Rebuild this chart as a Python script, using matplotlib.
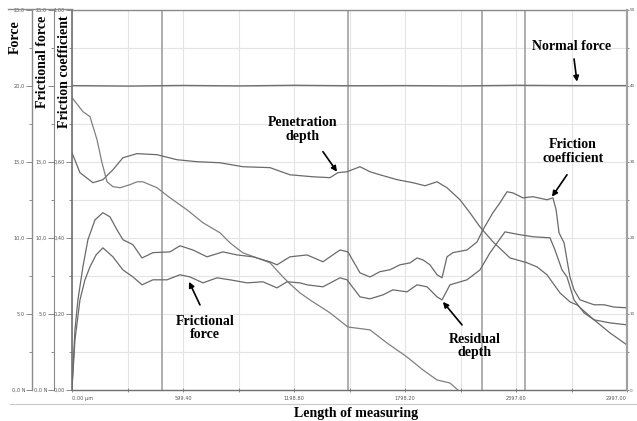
import matplotlib
matplotlib.use("Agg")
import matplotlib.pyplot as plt
from matplotlib.lines import Line2D
from matplotlib.ticker import MultipleLocator, FixedLocator

# ---------------- data ----------------
# x positions in micrometres, values on the 0-25 force scale unless noted
normal_x = [0, 300, 600, 900, 1200, 1500, 1800, 2100, 2400, 2700, 2997]
normal_y = [20.0, 19.97, 20.01, 19.98, 20.02, 19.99, 20.0, 19.98, 20.02, 20.0, 20.0]

pen_x = [0, 43, 113, 167, 221, 275, 351, 459, 567, 675, 799, 923, 1069, 1177,
         1301, 1393, 1436, 1485, 1555, 1609, 1663, 1755, 1841, 1906, 1971, 2025,
         2095, 2149, 2203, 2273, 2365, 2457, 2511, 2565, 2635, 2689, 2727, 2819,
         2905, 2997]
pen_y = [15.59, 14.28, 13.62, 13.82, 14.47, 15.26, 15.53, 15.46, 15.13, 15.0,
         14.93, 14.67, 14.61, 14.14, 14.01, 13.95, 14.28, 14.34, 14.67, 14.34,
         14.14, 13.82, 13.62, 13.42, 13.68, 13.29, 12.5, 11.64, 10.72, 9.74,
         8.68, 8.36, 8.09, 7.57, 6.38, 5.79, 5.59, 4.61, 3.75, 2.96]

res_x = [0, 59, 97, 135, 162, 189, 221, 259, 313, 351, 383, 459, 529, 621, 707,
         799, 853, 923, 999, 1069, 1139, 1177, 1231, 1285, 1393, 1490, 1609,
         1701, 1809, 1895, 1971, 2041, 2084]
res_y = [19.21, 18.29, 17.96, 16.45, 14.93, 13.68, 13.36, 13.29, 13.49, 13.68,
         13.68, 13.29, 12.63, 11.84, 10.99, 10.33, 9.67, 9.01, 8.68, 8.36, 7.43,
         6.97, 6.38, 5.92, 5.07, 4.14, 3.95, 3.09, 2.17, 1.32, 0.66, 0.46, 0.0]

# friction coefficient (0-1)
coef_x = [0, 16, 32, 59, 86, 124, 167, 205, 243, 275, 329, 378, 437, 529, 583,
          653, 729, 815, 891, 977, 1069, 1107, 1177, 1269, 1355, 1447, 1490,
          1555, 1609, 1663, 1717, 1771, 1825, 1863, 1895, 1933, 1971, 1998, 2025,
          2057, 2133, 2187, 2219, 2273, 2311, 2349, 2381, 2435, 2489, 2565, 2597,
          2614, 2630, 2657, 2689, 2711, 2743, 2819, 2873, 2927, 2997]
coef_y = [0.005, 0.158, 0.237, 0.324, 0.395, 0.447, 0.466, 0.455, 0.421, 0.395,
          0.382, 0.347, 0.361, 0.363, 0.379, 0.368, 0.350, 0.363, 0.355, 0.350,
          0.337, 0.329, 0.350, 0.355, 0.337, 0.368, 0.363, 0.308, 0.297, 0.311,
          0.316, 0.329, 0.334, 0.347, 0.342, 0.329, 0.303, 0.295, 0.350, 0.361,
          0.368, 0.389, 0.421, 0.466, 0.492, 0.521, 0.518, 0.505, 0.508, 0.500,
          0.505, 0.474, 0.413, 0.387, 0.297, 0.263, 0.237, 0.224, 0.224, 0.218,
          0.216]

# frictional force (N)
ff_x = [0, 16, 43, 70, 97, 130, 167, 221, 275, 329, 378, 437, 513, 583, 637,
        707, 783, 853, 945, 1031, 1107, 1161, 1231, 1269, 1355, 1447, 1485, 1555,
        1609, 1679, 1733, 1809, 1863, 1917, 1971, 1998, 2041, 2133, 2203, 2257,
        2338, 2419, 2489, 2581, 2608, 2646, 2673, 2711, 2765, 2819, 2905, 2997]
ff_y = [0.13, 3.29, 5.92, 7.24, 8.09, 8.88, 9.34, 8.75, 7.89, 7.43, 6.91, 7.24,
        7.24, 7.57, 7.43, 7.04, 7.37, 7.24, 7.04, 7.11, 6.71, 7.11, 7.04, 6.91,
        6.78, 7.37, 7.24, 6.12, 5.99, 6.25, 6.58, 6.45, 6.91, 6.78, 6.12, 5.92,
        6.91, 7.24, 7.89, 9.01, 10.39, 10.20, 10.07, 10.0, 9.21, 7.89, 7.43,
        5.92, 5.07, 4.61, 4.41, 4.28]

marker_lines = [486, 1490, 2214, 2446]

x_ticks = [0, 599.4, 1198.8, 1798.2, 2397.6, 2997.0]
x_tick_labels = ["0.00 µm", "599.40", "1198.80", "1798.20", "2397.60", "2997.00"]
force_ticks = [0, 5, 10, 15, 20, 25]
force_labels = ["0,0 N", "5,0", "10,0", "15,0", "20,0", "25,0"]
ff_labels = ["0,0 N", "5,0", "10,0", "15,0", "", "25,0"]
coef_ticks = [0, 0.2, 0.4, 0.6, 0.8, 1.0]
coef_labels = ["0,00", "0,20", "0,40", "0,60", "", "1,00"]
depth_labels = ["0", "10", "20", "30", "40", "50"]

# ---------------- figure ----------------
W, H = 637, 421
fig = plt.figure(figsize=(W / 100, H / 100), dpi=100)
fig.patch.set_facecolor("white")

L, R, T, B = 72, 627, 9.5, 390
ax = fig.add_axes([L / W, (H - B) / H, (R - L) / W, (B - T) / H])

curve_col = "#6a6a6a"
axis_col = "#8a8a8a"
tick_col = "#555555"
tick_font = dict(family="DejaVu Sans", size=3.6)
serif_bold = dict(family="Liberation Serif", weight="bold", size=10)

# spine positions first (moving a spine resets its ticks)
ax.spines["left"].set_position(("axes", -(L - 32) / (R - L)))

ax.set_xlim(0, 2997)
ax.set_ylim(0, 25)
ax.set_xticks(x_ticks)
ax.set_xticklabels(x_tick_labels, fontdict=tick_font, color=tick_col)
ax.xaxis.set_minor_locator(FixedLocator([299.7, 899.1, 1498.5, 2097.9, 2697.3]))
ax.yaxis.set_minor_locator(MultipleLocator(2.5))
ax.set_yticks(force_ticks)
ax.set_yticklabels(force_labels, fontdict=tick_font, color=tick_col)
ax.grid(True, which="both", color="#e4e4e4", lw=0.8)
ax.set_axisbelow(True)
labs = ax.get_xticklabels()
labs[0].set_ha("left")
labs[-1].set_ha("right")
ax.tick_params(axis="x", which="both", direction="inout", length=3, width=0.7,
               color=axis_col, pad=3)
ax.tick_params(axis="y", which="major", direction="out", length=4, width=0.7,
               color=axis_col, pad=1)
ax.tick_params(axis="y", which="minor", direction="out", length=2, width=0.7,
               color=axis_col)
for s in ["left", "bottom", "top"]:
    ax.spines[s].set_color(axis_col)
    ax.spines[s].set_linewidth(1.0)
ax.spines["bottom"].set_color("#707070")
ax.spines["right"].set_visible(False)

for xv in marker_lines:
    ax.axvline(xv, color="#a8a8a8", lw=1.3, zorder=1)

ax.plot(normal_x, normal_y, color="#707070", lw=1.0, zorder=3)
ax.plot(pen_x, pen_y, color=curve_col, lw=0.9, zorder=3)
ax.plot(res_x, res_y, color="#808080", lw=0.9, zorder=3)

# frictional force axis
ax_ff = ax.twinx()
ax_ff.yaxis.set_ticks_position("left")
ax_ff.spines["left"].set_position(("axes", -(L - 54) / (R - L)))
ax_ff.set_ylim(0, 25)
ax_ff.spines["left"].set_color(axis_col)
for s in ["right", "top", "bottom"]:
    ax_ff.spines[s].set_visible(False)
ax_ff.set_yticks(force_ticks)
ax_ff.set_yticklabels(ff_labels, fontdict=tick_font, color=tick_col)
ax_ff.yaxis.set_minor_locator(MultipleLocator(2.5))
ax_ff.tick_params(axis="y", which="major", direction="out", length=4, width=0.7,
                  color=axis_col, pad=1)
ax_ff.tick_params(axis="y", which="minor", direction="out", length=2, width=0.7,
                  color=axis_col)
ax_ff.plot(ff_x, ff_y, color=curve_col, lw=0.9, zorder=3)

# friction coefficient axis (plot border)
ax_c = ax.twinx()
ax_c.yaxis.set_ticks_position("left")
ax_c.spines["left"].set_position(("axes", 0))
ax_c.set_ylim(0, 1)
ax_c.spines["left"].set_color("#707070")
ax_c.spines["left"].set_linewidth(1.2)
for s in ["right", "top", "bottom"]:
    ax_c.spines[s].set_visible(False)
ax_c.set_yticks(coef_ticks)
ax_c.set_yticklabels(coef_labels, fontdict=tick_font, color=tick_col)
ax_c.yaxis.set_minor_locator(MultipleLocator(0.1))
ax_c.tick_params(axis="y", which="major", direction="out", length=4, width=0.7,
                 color=axis_col, pad=1)
ax_c.tick_params(axis="y", which="minor", direction="out", length=2, width=0.7,
                 color=axis_col)
ax_c.plot(coef_x, coef_y, color=curve_col, lw=0.9, zorder=3)

# depth axis on the right
ax_d = ax.twinx()
ax_d.set_ylim(0, 25)
for s in ["left", "top", "bottom"]:
    ax_d.spines[s].set_visible(False)
ax_d.spines["right"].set_color("#a0a0a0")
ax_d.spines["right"].set_linewidth(1.6)
ax_d.set_yticks(force_ticks)
ax_d.set_yticklabels(depth_labels, fontdict=dict(family="DejaVu Sans", size=3.0),
                     color=tick_col)
ax_d.yaxis.set_minor_locator(MultipleLocator(2.5))
ax_d.tick_params(axis="y", which="both", direction="out", length=1.5, width=0.7,
                 color=axis_col, pad=0.5)

# ---------------- annotations ----------------
arrow = dict(arrowstyle="-|>", color="black", lw=1.2, mutation_scale=8,
             shrinkA=0, shrinkB=0)
ax.text(2700, 22.57, "Normal force", ha="center", va="center", **serif_bold)
ax.annotate("", xy=(2727, 20.26), xytext=(2711, 21.75), arrowprops=arrow)

ax.text(1247, 17.1, "Penetration\ndepth", ha="center", va="center",
        linespacing=1.05, **serif_bold)
ax.annotate("", xy=(1431, 14.34), xytext=(1355, 15.66), arrowprops=arrow)

ax.text(2705, 15.66, "Friction\ncoefficient", ha="center", va="center",
        linespacing=1.05, **serif_bold)
ax.annotate("", xy=(2592, 12.7), xytext=(2673, 14.14), arrowprops=arrow)

ax.text(718, 4.08, "Frictional\nforce", ha="center", va="center",
        linespacing=1.05, **serif_bold)
ax.annotate("", xy=(632, 7.11), xytext=(691, 5.59), arrowprops=arrow)

ax.text(2176, 2.89, "Residual\ndepth", ha="center", va="center",
        linespacing=1.05, **serif_bold)
ax.annotate("", xy=(2003, 5.79), xytext=(2106, 4.28), arrowprops=arrow)

# axis titles
fig.text(15 / W, 1 - 37 / H, "Force", rotation=90, ha="center", va="center",
         **serif_bold)
fig.text(43 / W, 1 - 62 / H, "Frictional force", rotation=90, ha="center",
         va="center", **serif_bold)
fig.text(64 / W, 1 - 72 / H, "Friction coefficient", rotation=90, ha="center",
         va="center", **serif_bold)
fig.text(356 / W, 1 - 413 / H, "Length of measuring", ha="center",
         va="center", **serif_bold)

# frame lines outside the axes
fig.add_artist(Line2D([8 / W, L / W], [1 - 8.5 / H, 1 - 8.5 / H],
                      color=axis_col, lw=1.0, transform=fig.transFigure))
fig.add_artist(Line2D([10 / W, 1.0], [1 - 404 / H, 1 - 404 / H],
                      color="#c8c8c8", lw=0.8, transform=fig.transFigure))

fig.savefig("out.png", dpi=100, facecolor="white")
